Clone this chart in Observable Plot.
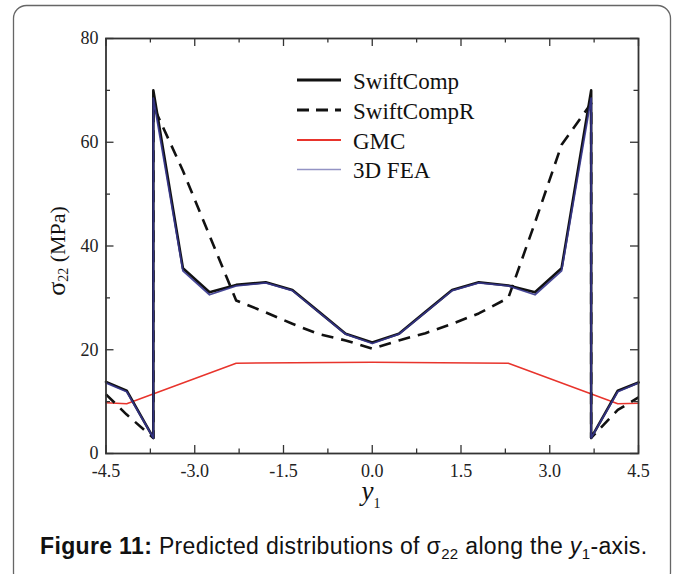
<!DOCTYPE html>
<html>
<head>
<meta charset="utf-8">
<script src="https://cdn.jsdelivr.net/npm/d3@7"></script>
<script src="https://cdn.jsdelivr.net/npm/@observablehq/plot@0.6"></script>
<style>
  html, body { margin: 0; padding: 0; background: #fff; }
  #chart { width: 677px; height: 574px; }
</style>
</head>
<body>
<div id="chart"></div>
<script>
// ---- data ----
const y1Pos = [-4.5, -4.15, -3.7, -3.7, -3.2, -2.75, -2.3, -1.8, -1.35, -0.9, -0.45, 0, 0.45, 0.9, 1.35, 1.8, 2.3, 2.75, 3.2, 3.7, 3.7, 4.15, 4.5];
const swiftComp  = [13.8, 12.1, 3.0, 70.0, 35.7, 31.1, 32.5, 33.0, 31.5, 27.3, 23.1, 21.4, 23.1, 27.3, 31.5, 33.0, 32.4, 31.1, 35.7, 70.0, 3.0, 12.1, 13.7];
const fea3D      = [13.6, 11.9, 3.0, 68.5, 35.2, 30.6, 32.3, 32.9, 31.4, 27.2, 23.0, 21.2, 23.0, 27.2, 31.4, 32.9, 32.3, 30.6, 35.2, 68.5, 3.0, 11.9, 13.6];
const swiftCompR = [11.4, 7.5, 3.0, 67.0, 54.5, 42.0, 29.5, 27.2, 25.0, 23.0, 21.8, 20.2, 21.8, 23.2, 25.0, 27.0, 30.0, 44.5, 59.5, 67.5, 3.0, 8.4, 10.8];
const gmcPos = [-4.5, -4.15, -2.3, 0, 2.3, 4.15, 4.5];
const gmc    = [9.8, 9.6, 17.4, 17.6, 17.4, 9.6, 9.7];

const xTicks = [-4.5, -3.0, -1.5, 0, 1.5, 3.0, 4.5];
const xMinor = [-3.75, -2.25, -0.75, 0.75, 2.25, 3.75];
const yTicks = [0, 20, 40, 60, 80];
const yMinor = [10, 30, 50, 70];

const seriesNames = ["SwiftComp", "SwiftCompR", "GMC", "3D FEA"];

// ---- layout ----
const W = 677, H = 574;
const mL = 105.5, mR = 39, mT = 38, mB = 121;
const pw = W - mL - mR, ph = H - mT - mB;
const majorLen = 8, minorLen = 4.5;

const rows = (xs, vs) => xs.map((x, i) => ({y1: x, v: vs[i]}));

const serif = "'Liberation Serif', 'Times New Roman', Times, serif";

const plot = Plot.plot({
  width: W, height: H,
  marginLeft: mL, marginRight: mR, marginTop: mT, marginBottom: mB,
  style: {fontFamily: serif, fontSize: "18px", background: "transparent", color: "#222"},
  x: {domain: [-4.5, 4.5]},
  y: {domain: [0, 80]},
  marks: [
    Plot.line(rows(gmcPos, gmc), {x: "y1", y: "v", stroke: "#e8342c", strokeWidth: 1.5}),
    Plot.line(rows(y1Pos, swiftCompR), {x: "y1", y: "v", stroke: "#111", strokeWidth: 2.6, strokeDasharray: "12,8", strokeLinecap: "butt"}),
    Plot.line(rows(y1Pos, swiftComp), {x: "y1", y: "v", stroke: "#111", strokeWidth: 2.6}),
    Plot.line(rows(y1Pos, fea3D), {x: "y1", y: "v", stroke: "#35358c", strokeWidth: 1.8, strokeOpacity: 0.9}),
    // inward ticks, all four sides
    Plot.tickX(xTicks, {x: d => d, insetTop: ph - majorLen, stroke: "#333", strokeWidth: 1.3}),
    Plot.tickX(xTicks, {x: d => d, insetBottom: ph - majorLen, stroke: "#333", strokeWidth: 1.3}),
    Plot.tickX(xMinor, {x: d => d, insetTop: ph - minorLen, stroke: "#333", strokeWidth: 1.3}),
    Plot.tickX(xMinor, {x: d => d, insetBottom: ph - minorLen, stroke: "#333", strokeWidth: 1.3}),
    Plot.tickY(yTicks, {y: d => d, insetRight: pw - majorLen, stroke: "#333", strokeWidth: 1.3}),
    Plot.tickY(yTicks, {y: d => d, insetLeft: pw - majorLen, stroke: "#333", strokeWidth: 1.3}),
    Plot.tickY(yMinor, {y: d => d, insetRight: pw - minorLen, stroke: "#333", strokeWidth: 1.3}),
    Plot.tickY(yMinor, {y: d => d, insetLeft: pw - minorLen, stroke: "#333", strokeWidth: 1.3}),
    Plot.axisX({ticks: xTicks, tickSize: 0, tickPadding: 11, tickFormat: d => d.toFixed(1), label: null, fontSize: 18, fill: "#222"}),
    Plot.axisY({ticks: yTicks, tickSize: 0, tickPadding: 7.5, label: null, fontSize: 18, fill: "#222"}),
    Plot.frame({stroke: "#333", strokeWidth: 1.8})
  ]
});

document.getElementById("chart").appendChild(plot);
const svg = d3.select(plot);

// rounded border
svg.insert("rect", ":first-child")
  .attr("x", 13.5).attr("y", 5.5).attr("width", 657).attr("height", 580)
  .attr("rx", 13).attr("ry", 13)
  .attr("fill", "none").attr("stroke", "#666").attr("stroke-width", 1.3);

// legend
const legend = svg.append("g")
  .attr("font-family", serif).attr("fill", "#111")
  .attr("text-anchor", "start");
const legendStyles = [
  {stroke: "#111", width: 3, dash: null},
  {stroke: "#111", width: 3, dash: "12,7"},
  {stroke: "#e8342c", width: 2, dash: null},
  {stroke: "#9393c4", width: 1.4, dash: null}
];
const legendY = [80, 110, 140, 169.5];
seriesNames.forEach((name, i) => {
  const s = legendStyles[i];
  legend.append("line")
    .attr("x1", 297).attr("x2", 341).attr("y1", legendY[i]).attr("y2", legendY[i])
    .attr("stroke", s.stroke).attr("stroke-width", s.width)
    .attr("stroke-dasharray", s.dash);
  legend.append("text").attr("x", 353).attr("y", legendY[i] + 8.5)
    .attr("text-anchor", "start").style("font-size", "23px").text(name);
});

// y axis label: σ22 (MPa)
const yl = svg.append("text")
  .attr("transform", "translate(65,251) rotate(-90)")
  .attr("text-anchor", "middle")
  .attr("font-family", serif).style("font-size", "22px").attr("fill", "#111");
yl.append("tspan").style("font-size", "26px").text("σ");
yl.append("tspan").style("font-size", "14px").attr("dy", 3).text("22");
yl.append("tspan").attr("dy", -3).text(" (MPa)");

// x axis label: y1
const xl = svg.append("text")
  .attr("x", 371).attr("y", 500)
  .attr("text-anchor", "middle")
  .attr("font-family", serif).style("font-size", "27px").attr("fill", "#111");
xl.append("tspan").attr("font-style", "italic").text("y");
xl.append("tspan").style("font-size", "14px").attr("dy", 8).text("1");

// caption
const cap = svg.append("text")
  .attr("x", 40).attr("y", 554)
  .attr("text-anchor", "start")
  .attr("font-family", "'Liberation Sans', Arial, Helvetica, sans-serif")
  .style("font-size", "23px").style("letter-spacing", "0.35px").attr("fill", "#111");
cap.append("tspan").attr("font-weight", "bold").text("Figure 11:");
cap.append("tspan").text(" Predicted distributions of σ");
cap.append("tspan").style("font-size", "15px").attr("dy", 5).text("22");
cap.append("tspan").attr("dy", -5).text(" along the ");
cap.append("tspan").attr("font-style", "italic").text("y");
cap.append("tspan").style("font-size", "15px").attr("dy", 5).text("1");
cap.append("tspan").attr("dy", -5).text("-axis.");
</script>
</body>
</html>
